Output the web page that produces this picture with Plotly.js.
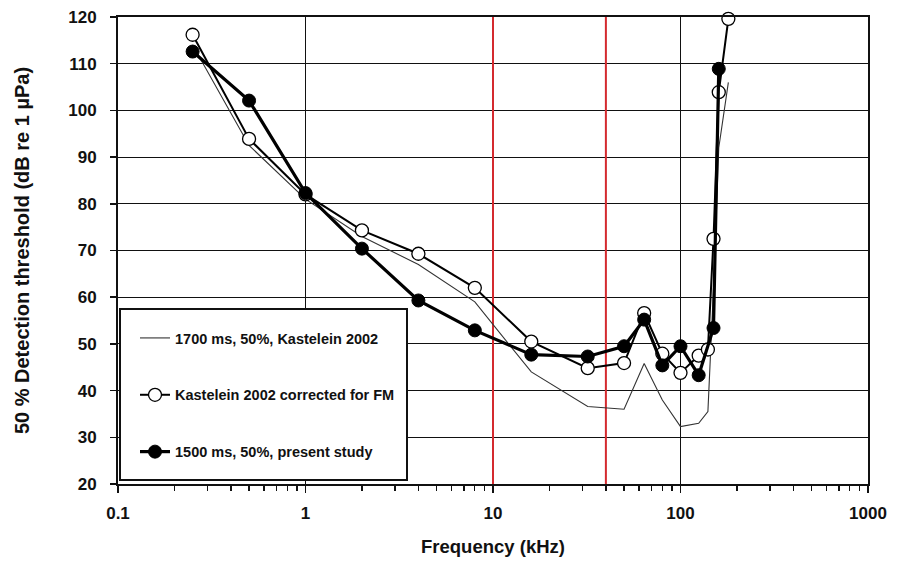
<!DOCTYPE html>
<html>
<head>
<meta charset="utf-8">
<script src="https://cdn.plot.ly/plotly-3.0.1.min.js"></script>
<style>html,body{margin:0;padding:0;background:#fff;}#chart{width:897px;height:561px;}</style>
</head>
<body>
<div id="chart"></div>
<script>
// Kastelein 2002, 1700 ms, 50% (thin line)
const kast1700Freq = [0.25, 0.5, 1, 2, 4, 8, 16, 32, 50, 64, 80, 100, 125, 140, 150, 160, 180];
const kast1700Thr  = [114, 92.5, 81, 73, 67, 59, 44, 36.6, 36, 45.8, 38, 32.3, 33, 35.5, 62, 92, 106];

// Kastelein 2002 corrected for FM (open circles)
const kastFMFreq = [0.25, 0.5, 1, 2, 4, 8, 16, 32, 50, 64, 80, 100, 125, 140, 150, 160, 180];
const kastFMThr  = [116.2, 93.9, 82, 74.3, 69.3, 62, 50.5, 44.8, 45.9, 56.6, 47.9, 43.8, 47.5, 48.8, 72.5, 103.9, 119.6];

// 1500 ms, 50%, present study (filled circles)
const presentFreq = [0.25, 0.5, 1, 2, 4, 8, 16, 32, 50, 64, 80, 100, 125, 150, 160];
const presentThr  = [112.6, 102.1, 82.3, 70.4, 59.3, 52.9, 47.7, 47.3, 49.5, 55.2, 45.4, 49.5, 43.3, 53.4, 108.9];

// red reference frequencies (kHz)
const refFreqs = [10, 40];
const yLimits = [20, 120];

const names = ["1700 ms, 50%, Kastelein 2002", "Kastelein 2002 corrected for FM", "1500 ms, 50%, present study"];
const xTickVals = [0.1, 1, 10, 100, 1000];
const xTickText = ["0.1", "1", "10", "100", "1000"];
const yTickVals = [20, 30, 40, 50, 60, 70, 80, 90, 100, 110, 120];

const FONT = "Liberation Sans, Arial, sans-serif";

const traces = [];
refFreqs.forEach(f => {
  traces.push({x: [f, f], y: yLimits, mode: "lines", line: {color: "#d42a2f", width: 2},
    showlegend: false, hoverinfo: "skip"});
});
traces.push({x: kast1700Freq, y: kast1700Thr, name: names[0], legendgroup: "a",
  mode: "lines", line: {color: "#333", width: 1.1}});
traces.push({x: kastFMFreq, y: kastFMThr, name: names[1], legendgroup: "b",
  mode: "lines+markers", cliponaxis: false, line: {color: "#000", width: 2},
  marker: {symbol: "circle", size: 13, color: "#fff", line: {color: "#000", width: 1.3}}});
traces.push({x: presentFreq, y: presentThr, name: names[2], legendgroup: "c",
  mode: "lines+markers", cliponaxis: false, line: {color: "#000", width: 3.2},
  marker: {symbol: "circle", size: 13, color: "#000", line: {color: "#000", width: 1}}});

const W = 897, H = 561, mL = 118, mR = 29, mT = 17, mB = 77;
const pw = W - mL - mR, ph = H - mT - mB;
const px2x = p => (p - mL) / pw;
const py2y = p => (H - mB - p) / ph;

const layout = {
  width: W, height: H,
  margin: {l: mL, r: mR, t: mT, b: mB},
  paper_bgcolor: "#fff", plot_bgcolor: "#fff",
  font: {family: FONT, color: "#111", size: 16},
  showlegend: true,
  legend: {
    x: px2x(135), y: py2y(322), xanchor: "left", yanchor: "top",
    bgcolor: "rgba(0,0,0,0)", borderwidth: 0,
    traceorder: "grouped", tracegroupgap: 35,
    font: {family: FONT, size: 14.5, color: "#111", weight: "bold"},
    itemwidth: 30
  },
  shapes: [{
    type: "rect", xref: "paper", yref: "paper", layer: "above",
    x0: px2x(120), x1: px2x(407), y0: py2y(480), y1: py2y(309),
    fillcolor: "#fff", line: {color: "#111", width: 2}
  }],
  xaxis: {
    type: "log", range: [-1, 3],
    tickvals: xTickVals, ticktext: xTickText,
    ticks: "outside", ticklen: 7, tickwidth: 1.5, tickcolor: "#111",
    ticklabelstandoff: 6,
    tickfont: {family: FONT, size: 17, color: "#111", weight: "bold"},
    showgrid: true, gridcolor: "#111", gridwidth: 1,
    showline: true, linecolor: "#111", linewidth: 2, mirror: true,
    zeroline: false,
    minor: {ticks: "outside", ticklen: 5, tickwidth: 1.3, tickcolor: "#111", dtick: "D1", showgrid: false},
    title: {text: "Frequency (kHz)", standoff: 18,
      font: {family: FONT, size: 18.5, color: "#111", weight: "bold"}}
  },
  yaxis: {
    range: yLimits, tickvals: yTickVals,
    ticks: "outside", ticklen: 6, tickwidth: 1.5, tickcolor: "#111",
    ticklabelstandoff: 10,
    tickfont: {family: FONT, size: 17, color: "#111", weight: "bold"},
    showgrid: true, gridcolor: "#111", gridwidth: 1,
    showline: true, linecolor: "#111", linewidth: 2, mirror: true,
    zeroline: false,
    title: {text: "50 % Detection threshold (dB re 1 µPa)", standoff: 33,
      font: {family: FONT, size: 20, color: "#111", weight: "bold"}}
  }
};

Plotly.newPlot("chart", traces, layout, {displayModeBar: false, staticPlot: true});
</script>
</body>
</html>
